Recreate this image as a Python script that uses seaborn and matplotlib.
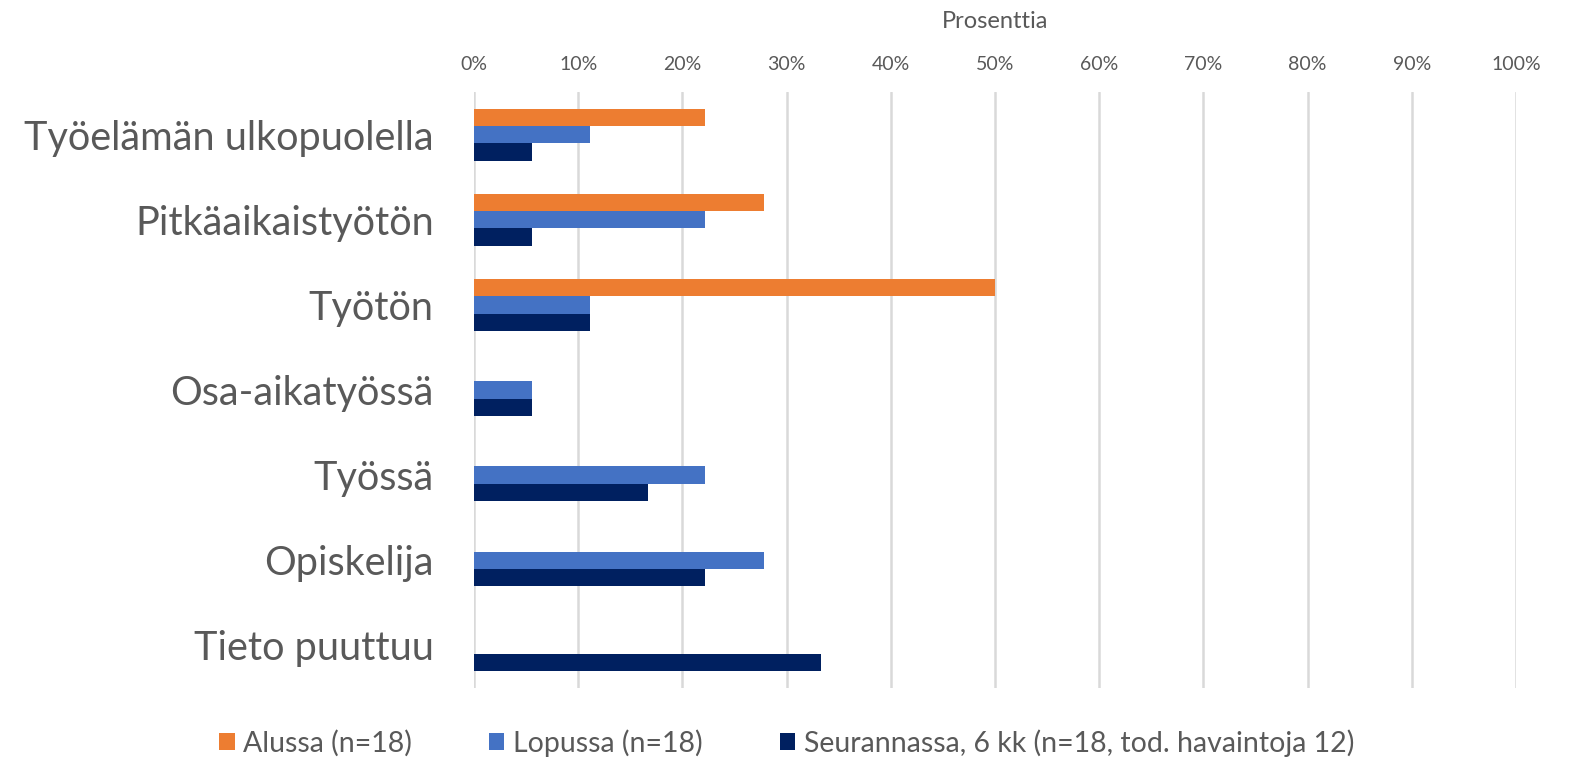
import matplotlib
matplotlib.use("Agg")
import matplotlib.pyplot as plt
import seaborn as sns
import pandas as pd
from matplotlib.ticker import PercentFormatter

categories = ["Työelämän ulkopuolella", "Pitkäaikaistyötön", "Työtön", "Osa-aikatyössä",
              "Työssä", "Opiskelija", "Tieto puuttuu"]
series_names = ["Alussa (n=18)", "Lopussa (n=18)", "Seurannassa, 6 kk (n=18, tod. havaintoja 12)"]
alussa = [22.2, 27.8, 50.0, 0.0, 0.0, 0.0, 0.0]
lopussa = [11.1, 22.2, 11.1, 5.6, 22.2, 27.8, 0.0]
seuranta = [5.6, 5.6, 11.1, 5.6, 16.7, 22.2, 33.3]
colors = ["#ED7D31", "#4472C4", "#002060"]

rows = []
for name, vals in zip(series_names, [alussa, lopussa, seuranta]):
    for c, v in zip(categories, vals):
        rows.append({"Kategoria": c, "Sarja": name, "Arvo": v})
df = pd.DataFrame(rows)

sns.set_theme(style="white")
plt.rcParams["font.family"] = ["Lato", "DejaVu Sans"]

fig = plt.figure(figsize=(15.73, 7.6), dpi=100)
ax = fig.add_axes([474 / 1573, 1 - 688 / 760, (1516 - 474) / 1573, (688 - 92) / 760])

sns.barplot(data=df, y="Kategoria", x="Arvo", hue="Sarja", order=categories,
            hue_order=series_names, palette=colors, orient="h", width=0.61,
            linewidth=0, saturation=1, errorbar=None, ax=ax, zorder=3)

ax.set_xlim(0, 100)
ax.set_ylim(6.5, -0.5)
ax.set_xticks(range(0, 101, 10))
ax.xaxis.set_major_formatter(PercentFormatter(decimals=0))
ax.xaxis.tick_top()
ax.xaxis.set_label_position("top")
ax.set_xlabel("Prosenttia", fontsize=17, color="#595959", labelpad=20)
ax.set_ylabel("")
ax.tick_params(axis="x", length=0, labelsize=14, labelcolor="#595959", pad=14)
ax.tick_params(axis="y", length=0, labelsize=28.5, labelcolor="#595959", pad=29)
ax.grid(axis="x", color="#D9D9D9", linewidth=1.8, zorder=0)
ax.grid(axis="y", visible=False)
for s in ax.spines.values():
    s.set_visible(False)

handles, labels = ax.get_legend_handles_labels()
ax.get_legend().remove()
fig.legend(handles, labels, loc="center", bbox_to_anchor=(0.5, 1 - 743 / 760), ncol=3,
           frameon=False, fontsize=20.5, handlelength=0.55, handleheight=0.55,
           handletextpad=0.3, columnspacing=2.7, labelcolor="#595959")

fig.savefig("out.png", dpi=100, facecolor="white")
